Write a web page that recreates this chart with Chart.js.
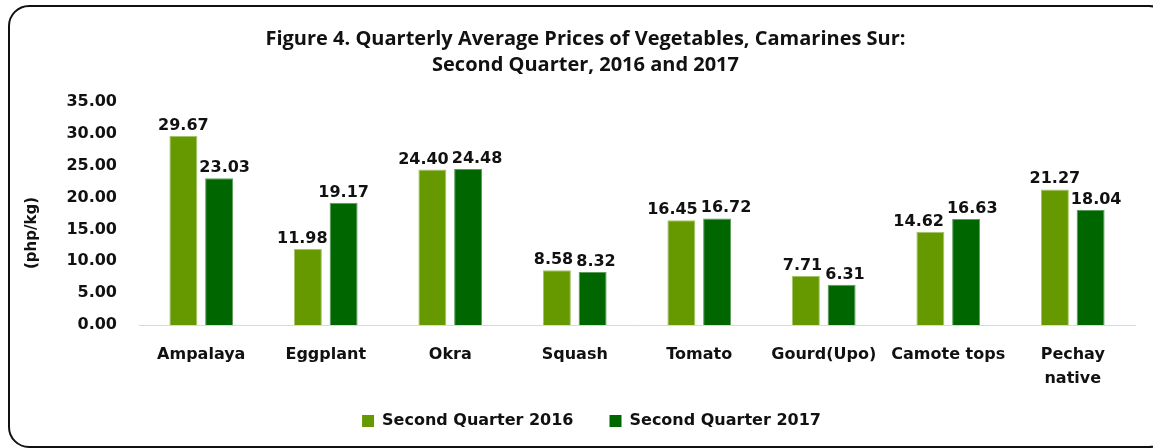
<!DOCTYPE html>
<html>
<head>
<meta charset="utf-8">
<script src="https://cdn.jsdelivr.net/npm/chart.js@4.4.1/dist/chart.umd.min.js"></script>
<style>
  html, body { margin: 0; padding: 0; background: #ffffff; }
  #wrap { position: relative; width: 1153px; height: 448px; }
</style>
</head>
<body>
<div id="wrap"><canvas id="c" width="1153" height="448"></canvas></div>
<script>
const categories = ['Ampalaya', 'Eggplant', 'Okra', 'Squash', 'Tomato', 'Gourd(Upo)', 'Camote tops', ['Pechay', 'native']];
const q2_2016 = [29.67, 11.98, 24.40, 8.58, 16.45, 7.71, 14.62, 21.27];
const q2_2017 = [23.03, 19.17, 24.48, 8.32, 16.72, 6.31, 16.63, 18.04];
const seriesNames = ['Second Quarter 2016', 'Second Quarter 2017'];
const titleLines = ['Figure 4. Quarterly Average Prices of Vegetables, Camarines Sur:', 'Second Quarter, 2016 and 2017'];
const yAxisTitle = '(php/kg)';
const yMin = 0, yMax = 35, yStep = 5;

const BOLD = 'bold 16px "DejaVu Sans"';

const framePlugin = {
  id: 'frame',
  beforeDraw(chart) {
    const ctx = chart.ctx;
    ctx.save();
    ctx.fillStyle = '#ffffff';
    ctx.fillRect(0, 0, chart.width, chart.height);
    ctx.beginPath();
    ctx.lineWidth = 2;
    ctx.strokeStyle = '#111111';
    ctx.roundRect(9, 6, 1160, 441, 20);
    ctx.stroke();
    ctx.restore();
  },
  afterDraw(chart) {
    const ctx = chart.ctx;
    ctx.save();
    ctx.font = 'bold 15px "DejaVu Sans"';
    ctx.fillStyle = '#111111';
    ctx.textAlign = 'center';
    ctx.textBaseline = 'middle';
    ctx.translate(32, 233);
    ctx.rotate(-Math.PI / 2);
    ctx.fillText(yAxisTitle, 0, 0);
    ctx.restore();
  }
};

const labelPlugin = {
  id: 'valueLabels',
  afterDatasetsDraw(chart) {
    const ctx = chart.ctx;
    ctx.save();
    ctx.font = BOLD;
    ctx.fillStyle = '#111111';
    ctx.textAlign = 'center';
    ctx.textBaseline = 'alphabetic';
    const n = chart.data.labels.length;
    for (let i = 0; i < n; i++) {
      const items = [];
      chart.data.datasets.forEach((ds, d) => {
        const el = chart.getDatasetMeta(d).data[i];
        const txt = ds.data[i].toFixed(2);
        const w = ctx.measureText(txt).width;
        items.push({ txt, x: el.x, y: el.y - 6, w, el });
      });
      if (items.length === 2) {
        const a = items[0], b = items[1];
        // keep a label clear of the neighbouring bar when it sits lower than that bar's top
        if (a.y + 2 > b.el.y) {
          const lim = b.el.x - b.el.width / 2 - 2;
          if (a.x + a.w / 2 > lim) a.x = lim - a.w / 2;
        }
        if (b.y + 2 > a.el.y) {
          const lim = a.el.x + a.el.width / 2 + 2;
          if (b.x - b.w / 2 < lim) b.x = lim + b.w / 2;
        }
        if (Math.abs(a.y - b.y) < 14) {
          const ov = (a.x + a.w / 2) - (b.x - b.w / 2) + 3;
          if (ov > 0) { a.x -= ov / 2; b.x += ov / 2; }
        }
      }
      items.forEach(it => ctx.fillText(it.txt, it.x, it.y));
    }
    ctx.restore();
  }
};

const legendShift = {
  id: 'legendShift',
  afterLayout(chart) {
    const lg = chart.legend;
    if (lg) {
      lg.left += 6; lg.right += 6;
      lg.top -= 14; lg.bottom -= 14;
    }
  }
};

new Chart(document.getElementById('c'), {
  type: 'bar',
  data: {
    labels: categories,
    datasets: [
      { label: seriesNames[0], data: q2_2016, backgroundColor: '#669900', borderColor: '#a6c46a', borderWidth: 1,
        categoryPercentage: 0.574, barPercentage: 0.783 },
      { label: seriesNames[1], data: q2_2017, backgroundColor: '#006600', borderColor: '#5c9c5c', borderWidth: 1,
        categoryPercentage: 0.574, barPercentage: 0.783 }
    ]
  },
  options: {
    responsive: false,
    animation: false,
    devicePixelRatio: 1,
    layout: { padding: { left: 36, right: 18, top: 0, bottom: -5 } },
    plugins: {
      title: {
        display: true,
        text: titleLines,
        color: '#111111',
        font: { family: 'Open Sans', weight: 'bold', size: 20, lineHeight: 26 / 20 },
        padding: { top: 26, bottom: 24 }
      },
      legend: {
        display: true,
        position: 'bottom',
        labels: {
          color: '#111111',
          font: { family: 'DejaVu Sans', weight: 'bold', size: 16 },
          boxWidth: 12, boxHeight: 12, padding: 36,
          generateLabels(chart) {
            const items = Chart.defaults.plugins.legend.labels.generateLabels(chart);
            items.forEach(it => { it.lineWidth = 0; it.strokeStyle = 'rgba(0,0,0,0)'; });
            return items;
          }
        }
      },
      tooltip: { enabled: false }
    },
    scales: {
      x: {
        grid: { display: false, drawTicks: false },
        border: { display: true, color: '#d9d9d9', width: 1 },
        ticks: { color: '#111111', font: { family: 'DejaVu Sans', weight: 'bold', size: 16, lineHeight: 1.5 }, padding: 18, maxRotation: 0, autoSkip: false },
        afterFit(s) { s.height = 66; }
      },
      y: {
        min: yMin, max: yMax,
        grid: { display: false, drawTicks: false },
        border: { display: false },
        ticks: { stepSize: yStep, color: '#111111', font: { family: 'DejaVu Sans', weight: 'bold', size: 16 }, padding: 22,
          callback: v => Number(v).toFixed(2) },
        afterFit(s) { s.width = 103; }
      }
    }
  },
  plugins: [framePlugin, labelPlugin, legendShift]
});
</script>
</body>
</html>
